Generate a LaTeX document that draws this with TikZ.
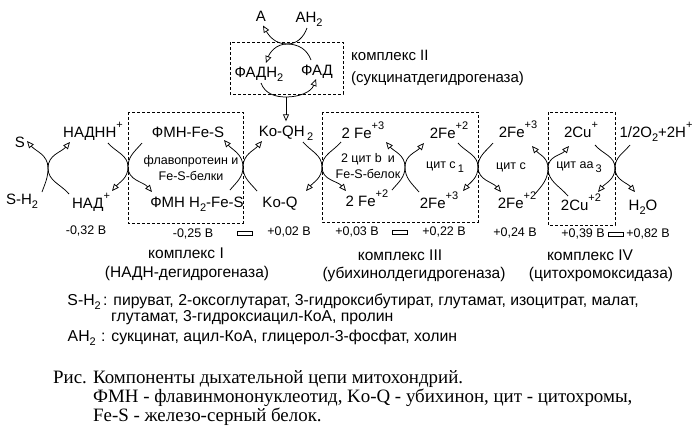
\documentclass[tikz,border=0pt]{standalone}
\usepackage{fontspec}
\setmainfont{Liberation Sans}
\newfontfamily\capfont{Liberation Serif}
\usetikzlibrary{arrows.meta}
\newcommand\supx[1]{\raisebox{0.55em}{\fontsize{11}{11}\selectfont #1}}
\newcommand\subx[1]{\raisebox{-0.3em}{\fontsize{11}{11}\selectfont #1}}

\begin{document}
\begin{tikzpicture}[x=1pt,y=1pt,
  font=\fontsize{15}{17}\selectfont,
  chem/.style={anchor=base,inner sep=1pt},
  ev/.style={font=\fontsize{12.5}{15}\selectfont,inner sep=1pt},
  cyt/.style={font=\fontsize{12.5}{15.5}\selectfont,align=center,inner sep=1pt},
  cname/.style={font=\fontsize{15.5}{17}\selectfont},
  subst/.style={inner sep=0pt,font=\fontsize{15.8}{17}\selectfont},
  redox/.style={line width=0.75pt,-{Triangle[open,length=7pt,width=6pt]}},
  feed/.style={line width=0.75pt,-{Triangle[open,length=7pt,width=6pt]}},
  cbox/.style={line width=0.7pt,dash pattern=on 3pt off 2pt},
  atp/.style={draw,line width=0.7pt,minimum width=15pt,minimum height=4pt,inner sep=0pt},
  capt/.style={anchor=base west,inner sep=0pt,font=\capfont\fontsize{18.9}{19}\selectfont}]
\useasboundingbox (0,0) rectangle (694,-429);

% complex II
\node[chem] (a) at (261,-21) {A};
\node[chem] (ah2) at (309,-22) {AH\subx{2}};
\node[chem] (fadh) at (259,-77) {ФАДН\subx{2}};
\node[chem] (fad) at (317,-75) {ФАД};
\node[anchor=base west,inner sep=0pt] (n2) at (351,-60) {комплекс II};
\node[anchor=base west,inner sep=0pt] (n2f) at (351,-82) {(сукцинатдегидрогеназа)};
\draw[cbox] (230,-42) rectangle (343,-94);
\coordinate (xt) at (287,-44);
\coordinate (xb) at (286,-97);

% chain
\node[chem] (s) at (20,-147) {S};
\node[chem] (nadh) at (93,-137) {НАДНН\supx{+}};
\node[chem] (sh2) at (22,-204) {S-H\subx{2}};
\node[chem] (nad) at (91,-208) {НАД\supx{+}};
\node[chem] (fmn) at (188,-137) {ФМН-Fe-S};
\node[chem] (fmnh) at (197,-207) {ФМН H\subx{2}-Fe-S};
\node[cyt] (flavo) at (191,-168) {флавопротеин и\\Fe-S-белки};
\node[chem] (koqh) at (286,-136) {Ko-QH\,\subx{2}};
\node[chem] (koq) at (280,-207) {Ko-Q};
\node[chem] (fe3a) at (363,-138) {2 Fe\supx{+3}};
\node[chem] (fe2a) at (367,-206) {2 Fe\supx{+2}};
\node[cyt] (cytb) at (368,-166) {2 цит b\enspace и\\Fe-S-белок};
\node[chem] (fe2b) at (449,-138) {2Fe\supx{+2}};
\node[chem] (fe3b) at (439,-208) {2Fe\supx{+3}};
\node[cyt] (cytc1) at (445,-167) {цит c\,\subx{1}};
\node[chem] (fe3c) at (518,-137) {2Fe\supx{+3}};
\node[chem] (fe2c) at (517,-208) {2Fe\supx{+2}};
\node[cyt] (cytc) at (511,-167) {цит c};
\node[chem] (cu1) at (581,-137) {2Cu\supx{+}};
\node[chem] (cu2) at (581,-210) {2Cu\supx{+2}};
\node[cyt] (cytaa) at (579,-167) {цит aa\,\subx{3}};
\node[chem] (oxy) at (656,-137) {1/2O\subx{2}+2H\supx{+}};
\node[chem] (water) at (643,-210) {H\subx{2}O};

\draw[cbox] (128,-112) rectangle (243,-223);
\draw[cbox] (322,-112) rectangle (478,-222);
\draw[cbox] (548,-112) rectangle (615,-225);

\coordinate (x1) at (48,-168);
\coordinate (x2) at (128,-167);
\coordinate (x3) at (243,-167);
\coordinate (x4) at (322,-167);
\coordinate (x5) at (405,-167);
\coordinate (x6) at (478,-167);
\coordinate (x7) at (548,-168);
\coordinate (x8) at (615,-168);

% redox pairs
\draw[redox] ([shift={(-2,-6)}]ah2.base) to[out=-110,in=0] (xt) to[out=180,in=-60] ([shift={(2,-4.5)}]a.base);
\draw[redox] ([shift={(-6,15)}]fad.base) to[out=110,in=0] (xt) to[out=180,in=70] ([shift={(7,14)}]fadh.base);
\draw[redox] ([shift={(2,-6)}]fadh.base) to[out=-70,in=180] (xb) to[out=0,in=-110] ([shift={(-1,-4)}]fad.base);
\draw[feed,shorten >=3pt] (xb) -- (xb |- koqh.north);

\draw[redox] ([shift={(20,12)}]sh2.base) to[out=70,in=-90] (x1) to[out=90,in=-50] ([shift={(7,6)}]s.base);
\draw[redox] ([shift={(-22,14)}]nad.base) to[out=130,in=-90] (x1) to[out=90,in=-130] ([shift={(-23,-5)}]nadh.base);
\draw[redox] ([shift={(15,-6)}]nadh.base) to[out=-50,in=90] (x2) to[out=-90,in=50] ([shift={(21,17)}]nad.base);
\draw[redox] ([shift={(-46,-6)}]fmn.base) to[out=-130,in=90] (x2) to[out=-90,in=130] ([shift={(-45,15)}]fmnh.base);
\draw[redox] ([shift={(33,17)}]fmnh.base) to[out=50,in=-90] (x3) to[out=90,in=-50] ([shift={(36,-3)}]fmn.base);
\draw[redox] ([shift={(-23,16)}]koq.base) to[out=130,in=-90] (x3) to[out=90,in=-130] ([shift={(-24,-5)}]koqh.base);
\draw[redox] ([shift={(17,-6)}]koqh.base) to[out=-50,in=90] (x4) to[out=-90,in=50] ([shift={(26,16)}]koq.base);
\draw[redox] ([shift={(-22,-4)}]fe3a.base) to[out=-130,in=90] (x4) to[out=-90,in=130] ([shift={(-21,15)}]fe2a.base);
\draw[redox] ([shift={(25,16)}]fe2a.base) to[out=50,in=-90] (x5) to[out=90,in=-50] ([shift={(23,-4)}]fe3a.base);
\draw[redox] ([shift={(-20,16)}]fe3b.base) to[out=130,in=-90] (x5) to[out=90,in=-130] ([shift={(-25,-5)}]fe2b.base);
\draw[redox] ([shift={(9,-5)}]fe2b.base) to[out=-50,in=90] (x6) to[out=-90,in=50] ([shift={(24,17)}]fe3b.base);
\draw[redox] ([shift={(-25,-6)}]fe3c.base) to[out=-130,in=90] (x6) to[out=-90,in=130] ([shift={(-16,16)}]fe2c.base);
\draw[redox] ([shift={(18,14)}]fe2c.base) to[out=50,in=-90] (x7) to[out=90,in=-50] ([shift={(14,-9)}]fe3c.base);
\draw[redox] ([shift={(-13,14)}]cu2.base) to[out=130,in=-90] (x7) to[out=90,in=-130] ([shift={(-12,-9)}]cu1.base);
\draw[redox] ([shift={(14,-8)}]cu1.base) to[out=-50,in=90] (x8) to[out=-90,in=50] ([shift={(17,18)}]cu2.base);
\draw[redox] ([shift={(-26,-8)}]oxy.base) to[out=-130,in=90] (x8) to[out=-90,in=130] ([shift={(-8,18)}]water.base);

% potentials
\node[ev] (e1) at (86,-231) {-0,32 В};
\node[ev] (e2) at (193,-234) {-0,25 В};
\node[atp] (r1) at (245,-233) {};
\node[ev] (e3) at (289,-232) {+0,02 В};
\node[ev] (e4) at (357,-232) {+0,03 В};
\node[atp] (r2) at (400,-232) {};
\node[ev] (e5) at (444,-232) {+0,22 В};
\node[ev] (e6) at (515,-233) {+0,24 В};
\node[ev] (e7) at (583,-234) {+0,39 В};
\node[atp] (r3) at (616,-234) {};
\node[ev] (e8) at (648,-234) {+0,82 В};

% complex names
\node[cname] (n1) at (186,-253) {комплекс I};
\node[cname] (n1f) at (187,-273) {(НАДН-дегидрогеназа)};
\node[cname] (n3) at (400,-255) {комплекс III};
\node[cname] (n3f) at (414,-274) {(убихинолдегидрогеназа)};
\node[cname] (n4) at (590,-255) {комплекс IV};
\node[cname] (n4f) at (601,-274) {(цитохромоксидаза)};

% substrates
\node[subst,anchor=base east] (k1) at (101,-305) {S-H\subx{2}};
\node[subst,anchor=base west] (l1) at (103,-305) {: пируват, 2-оксоглутарат, 3-гидроксибутират, глутамат, изоцитрат, малат,};
\node[subst,anchor=base west] (l2) at (111,-321) {глутамат, 3-гидроксиацил-КоА, пролин};
\node[subst,anchor=base east] (k2) at (96,-341) {AH\subx{2}};
\node[subst,anchor=base west] (l3) at (101,-341) {: сукцинат, ацил-КоА, глицерол-3-фосфат, холин};

% caption
\node[capt] (fig) at (53,-383) {Рис.};
\node[capt] (cap1) at (93,-383) {Компоненты дыхательной цепи митохондрий.};
\node[capt] (cap2) at (93,-402) {ФМН - флавинмононуклеотид, Ko-Q - убихинон, цит - цитохромы,};
\node[capt] (cap3) at (93,-421) {Fe-S - железо-серный белок.};
\end{tikzpicture}
\end{document}
